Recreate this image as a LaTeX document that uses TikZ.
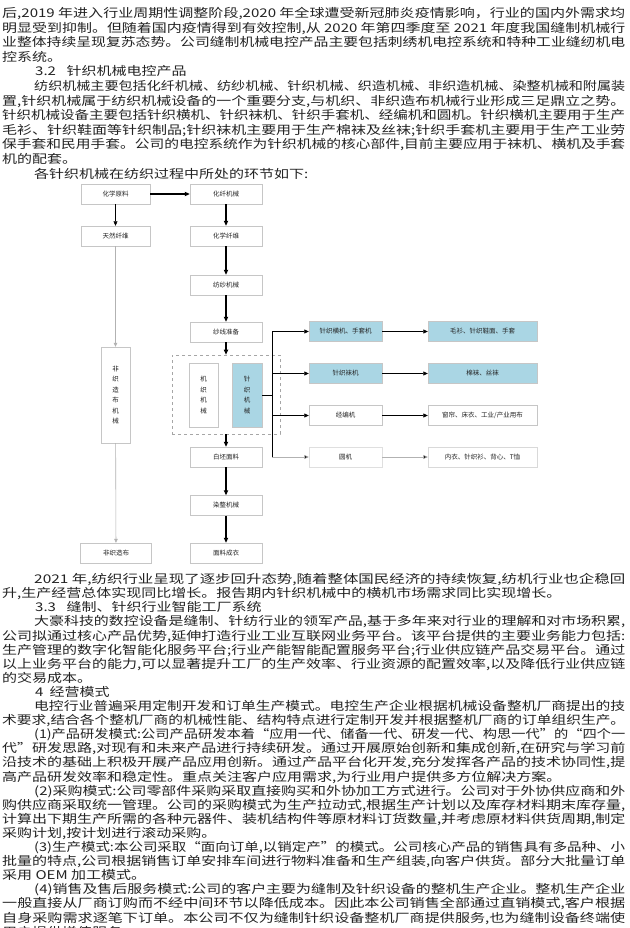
\documentclass[tikz,border=0pt]{standalone}
\usepackage{fontspec}
\usepackage{graphicx}
\newfontfamily\cjk{Noto Sans CJK SC}
\usetikzlibrary{arrows.meta,shadows}
\definecolor{boxblue}{RGB}{170,214,228}
\definecolor{txtc}{RGB}{35,35,35}
\newcommand\fullln[5]{\node[txt] (#1) at (#2,#3) {\resizebox{#4pt}{\height}{#5}};}
\newcommand\shortln[4]{\node[txt] (#1) at (#2,#3) {\scalebox{1.25}[1]{#4}};}
\begin{document}
\begin{tikzpicture}[x=1pt,y=-1pt,
  txt/.style={anchor=base west, inner sep=0pt, font=\cjk\fontsize{12}{12}\selectfont, text=txtc},
  bx/.style={draw=gray!45, line width=0.4pt, fill=white, inner sep=0pt,
    minimum width=72pt, minimum height=20pt, text=txtc,
    font=\cjk\fontsize{6.5}{7.5}\selectfont,
    drop shadow={shadow xshift=0.9pt, shadow yshift=-0.9pt, fill=gray!40}},
  bb/.style={bx, fill=boxblue},
  vbx/.style={bx, align=center, font=\cjk\fontsize{6.5}{10.5}\selectfont},
  dashbox/.style={draw=gray!70, dashed, line width=0.6pt, inner sep=0pt},
  arr/.style={-{Triangle[length=5pt,width=4.2pt]}, line width=1.1pt, draw=black},
  tarr/.style={-{Triangle[length=4.5pt,width=4pt]}, line width=0.6pt, draw=black},
  garr/.style={-{Triangle[length=4pt,width=3.6pt]}, line width=0.5pt, draw=gray!55},
  gline/.style={line width=0.6pt, draw=gray!60}
]
\useasboundingbox (0,0) rectangle (629,928);
\clip (0,0) rectangle (629,928);
\fill[white] (0,0) rectangle (629,928);

% ---------- top text ----------
\fullln{a0}{2}{17.6}{623}{后,2019 年进入行业周期性调整阶段,2020 年全球遭受新冠肺炎疫情影响，行业的国内外需求均}
\fullln{a1}{2}{32.2}{623}{明显受到抑制。但随着国内疫情得到有效控制,从 2020 年第四季度至 2021 年度我国缝制机械行}
\fullln{a2}{2}{46.8}{623}{业整体持续呈现复苏态势。公司缝制机械电控产品主要包括刺绣机电控系统和特种工业缝纫机电}
\shortln{a3}{2}{61.4}{控系统。}
\shortln{a4}{35}{76}{3.2\hspace{0.7em}针织机械电控产品}
\fullln{a5}{34}{90.6}{591}{纺织机械主要包括化纤机械、纺纱机械、针织机械、织造机械、非织造机械、染整机械和附属装}
\fullln{a6}{2}{105.2}{623}{置,针织机械属于纺织机械设备的一个重要分支,与机织、非织造布机械行业形成三足鼎立之势。}
\fullln{a7}{2}{119.8}{623}{针织机械设备主要包括针织横机、针织袜机、针织手套机、经编机和圆机。针织横机主要用于生产}
\fullln{a8}{2}{134.4}{623}{毛衫、针织鞋面等针织制品;针织袜机主要用于生产棉袜及丝袜;针织手套机主要用于生产工业劳}
\fullln{a9}{2}{149}{623}{保手套和民用手套。公司的电控系统作为针织机械的核心部件,目前主要应用于袜机、横机及手套}
\shortln{a10}{2}{163.6}{机的配套。}
\shortln{a11}{34}{178.2}{各针织机械在纺织过程中所处的环节如下:}

% ---------- flowchart ----------
\node[bx, minimum width=69pt] (ca) at (115.5,194) {化学原料};
\node[bx] (cb) at (226,194) {化纤机械};
\node[bx, minimum width=69pt, drop shadow={opacity=0}] (tr) at (115.5,236) {天然纤维};
\node[bx] (hx) at (226,236) {化学纤维};
\node[bx] (fs) at (226,285) {纺纱机械};
\node[bx] (sx) at (226,332) {纱线准备};
\node[dashbox, minimum width=108pt, minimum height=79pt] (db) at (226,394.5) {};
\node[vbx, minimum width=29pt, minimum height=64pt] (jz) at (203.5,395) {机\\织\\机\\械};
\node[vbx, fill=boxblue, minimum width=30pt, minimum height=64pt] (zz) at (247,395) {针\\织\\机\\械};
\node[bx, drop shadow={opacity=0}] (bp) at (226,457) {白坯面料};
\node[bx] (rz) at (226,505.5) {染整机械};
\node[bx] (ml) at (226,553) {面料成衣};
\node[vbx, minimum width=29pt, minimum height=96pt] (fz) at (115.5,395) {非\\织\\造\\布\\机\\械};
\node[bx, minimum width=71pt] (fb) at (116,553) {非织造布};

\node[bb, minimum width=73pt] (r1) at (345.5,331.5) {针织横机、手套机};
\node[bb, minimum width=73pt] (r2) at (345.5,373.5) {针织袜机};
\node[bx, minimum width=73pt] (r3) at (345.5,415.5) {经编机};
\node[bx, minimum width=73pt, draw=gray!25, drop shadow={opacity=0}] (r4) at (345.5,457) {圆机};
\node[bb, minimum width=109pt] (e1) at (482.5,331.5) {毛衫、针织鞋面、手套};
\node[bb, minimum width=109pt] (e2) at (482.5,373.5) {棉袜、丝袜};
\node[bx, minimum width=109pt] (e3) at (482.5,415.5) {窗帘、床衣、工业/产业用布};
\node[bx, minimum width=109pt, draw=gray!30] (e4) at (482.5,457) {内衣、针织衫、背心、T恤};

\draw[arr] (ca) -- (cb);
\draw[arr] (cb) -- (hx);
\draw[arr] (hx) -- (fs);
\draw[arr] (fs) -- (sx);
\draw[arr] (sx) -- (db);
\draw[arr] (db) -- (bp);
\draw[arr] (bp) -- (rz);
\draw[arr] (rz) -- (ml);

\draw[tarr, line width=0.5pt] (ca) -- (tr);
\draw[gline, -{Triangle[length=4pt,width=3.6pt]}] (tr) -- (fz);
\draw[gline, -{Triangle[length=4pt,width=3.6pt]}] (fz) -- (fb);

\coordinate (jn) at (272,395);
\coordinate (v1) at (272,331.5);
\coordinate (v2) at (272,373.5);
\coordinate (v3) at (272,415.5);
\coordinate (v4) at (272,457);
\draw[line width=0.6pt] (zz.east) -- (jn);
\draw[line width=0.6pt] (v1) -- (v4);
\draw[tarr] (v1) -- (r1);
\draw[tarr] (v2) -- (r2);
\draw[tarr] (v3) -- (r3);
\draw[gline, -{Triangle[length=4.5pt,width=4pt,fill=black]}] (v4) -- (r4);
\draw[tarr] (r1) -- (e1);
\draw[tarr] (r2) -- (e2);
\draw[tarr] (r3) -- (e3);
\draw[gline, -{Triangle[length=4.5pt,width=4pt,fill=black]}] (r4) -- (e4);

% ---------- bottom text ----------
\fullln{b0}{34}{583.6}{591}{2021 年,纺织行业呈现了逐步回升态势,随着整体国民经济的持续恢复,纺机行业也企稳回}
\shortln{b1}{2}{597.7}{升,生产经营总体实现同比增长。报告期内针织机械中的横机市场需求同比实现增长。}
\shortln{b2}{35}{611.8}{3.3\hspace{0.7em}缝制、针织行业智能工厂系统}
\fullln{b3}{34}{625.9}{591}{大豪科技的数控设备是缝制、针纺行业的领军产品,基于多年来对行业的理解和对市场积累,}
\fullln{b4}{2}{640}{623}{公司拟通过核心产品优势,延伸打造行业工业互联网业务平台。该平台提供的主要业务能力包括:}
\fullln{b5}{2}{654.1}{623}{生产管理的数字化智能化服务平台;行业产能智能配置服务平台;行业供应链产品交易平台。通过}
\fullln{b6}{2}{668.2}{623}{以上业务平台的能力,可以显著提升工厂的生产效率、行业资源的配置效率,以及降低行业供应链}
\shortln{b7}{2}{682.3}{的交易成本。}
\shortln{b8}{35}{696.4}{4\hspace{0.4em}经营模式}
\fullln{b9}{34}{710.5}{591}{电控行业普遍采用定制开发和订单生产模式。电控生产企业根据机械设备整机厂商提出的技}
\fullln{b10}{2}{724.6}{623}{术要求,结合各个整机厂商的机械性能、结构特点进行定制开发并根据整机厂商的订单组织生产。}
\fullln{b11}{34}{738.7}{591}{(1)产品研发模式:公司产品研发本着“应用一代、储备一代、研发一代、构思一代”的“四个一}
\fullln{b12}{2}{752.8}{623}{代”研发思路,对现有和未来产品进行持续研发。通过开展原始创新和集成创新,在研究与学习前}
\fullln{b13}{2}{766.9}{623}{沿技术的基础上积极开展产品应用创新。通过产品平台化开发,充分发挥各产品的技术协同性,提}
\shortln{b14}{2}{781}{高产品研发效率和稳定性。重点关注客户应用需求,为行业用户提供多方位解决方案。}
\fullln{b15}{34}{795.1}{591}{(2)采购模式:公司零部件采购采取直接购买和外协加工方式进行。公司对于外协供应商和外}
\fullln{b16}{2}{809.2}{623}{购供应商采取统一管理。公司的采购模式为生产拉动式,根据生产计划以及库存材料期末库存量,}
\fullln{b17}{2}{823.3}{623}{计算出下期生产所需的各种元器件、装机结构件等原材料订货数量,并考虑原材料供货周期,制定}
\shortln{b18}{2}{837.4}{采购计划,按计划进行滚动采购。}
\fullln{b19}{34}{851.5}{591}{(3)生产模式:本公司采取“面向订单,以销定产”的模式。公司核心产品的销售具有多品种、小}
\fullln{b20}{2}{865.6}{623}{批量的特点,公司根据销售订单安排车间进行物料准备和生产组装,向客户供货。部分大批量订单}
\shortln{b21}{2}{879.7}{采用 OEM 加工模式。}
\fullln{b22}{34}{893.8}{591}{(4)销售及售后服务模式:公司的客户主要为缝制及针织设备的整机生产企业。整机生产企业}
\fullln{b23}{2}{907.9}{623}{一般直接从厂商订购而不经中间环节以降低成本。因此本公司销售全部通过直销模式,客户根据}
\fullln{b24}{2}{922}{623}{自身采购需求逐笔下订单。本公司不仅为缝制针织设备整机厂商提供服务,也为缝制设备终端使}
\shortln{b25}{2}{936.1}{用户提供增值服务。}
\end{tikzpicture}
\end{document}
